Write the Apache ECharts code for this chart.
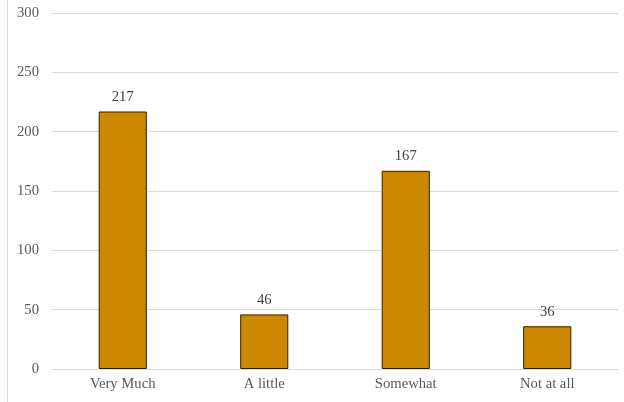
<!DOCTYPE html>
<html><head><meta charset="utf-8">
<script src="https://cdn.jsdelivr.net/npm/echarts@6/dist/echarts.min.js"></script>
<style>html,body{margin:0;padding:0;background:#fff}#c{width:624px;height:402px}</style>
</head><body><div id="c"></div>
<script>
const categories = ["Very Much", "A little", "Somewhat", "Not at all"];
const values = [217, 46, 167, 36];
const yTicks = [0, 50, 100, 150, 200, 250, 300];

const chart = echarts.init(document.getElementById('c'), null, {renderer: 'canvas'});
const font = '"Liberation Serif", "Times New Roman", serif';
chart.setOption({
  animation: false,
  backgroundColor: '#fff',
  grid: {left: 52, right: 6, top: 13, bottom: 33, containLabel: false},
  graphic: [{type: 'line', shape: {x1: 7.5, y1: 0, x2: 7.5, y2: 402}, style: {stroke: '#d9d9d9', lineWidth: 1}}],
  xAxis: {
    type: 'category', data: categories,
    axisLine: {lineStyle: {color: '#d9d9d9'}},
    axisTick: {show: false},
    axisLabel: {color: '#595959', fontFamily: font, fontSize: 14.67, margin: 8}
  },
  yAxis: {
    type: 'value', min: yTicks[0], max: yTicks[yTicks.length - 1], interval: 50,
    axisLine: {show: false}, axisTick: {show: false},
    splitLine: {lineStyle: {color: '#d9d9d9'}},
    axisLabel: {color: '#595959', fontFamily: font, fontSize: 14.67, margin: 13}
  },
  series: [{
    type: 'bar', data: values, barWidth: '34%',
    itemStyle: {color: '#CC8800', borderColor: '#2b2000', borderWidth: 1},
    label: {show: true, position: 'top', color: '#404040', fontFamily: font, fontSize: 14.67, distance: 7}
  }]
});
</script></body></html>
